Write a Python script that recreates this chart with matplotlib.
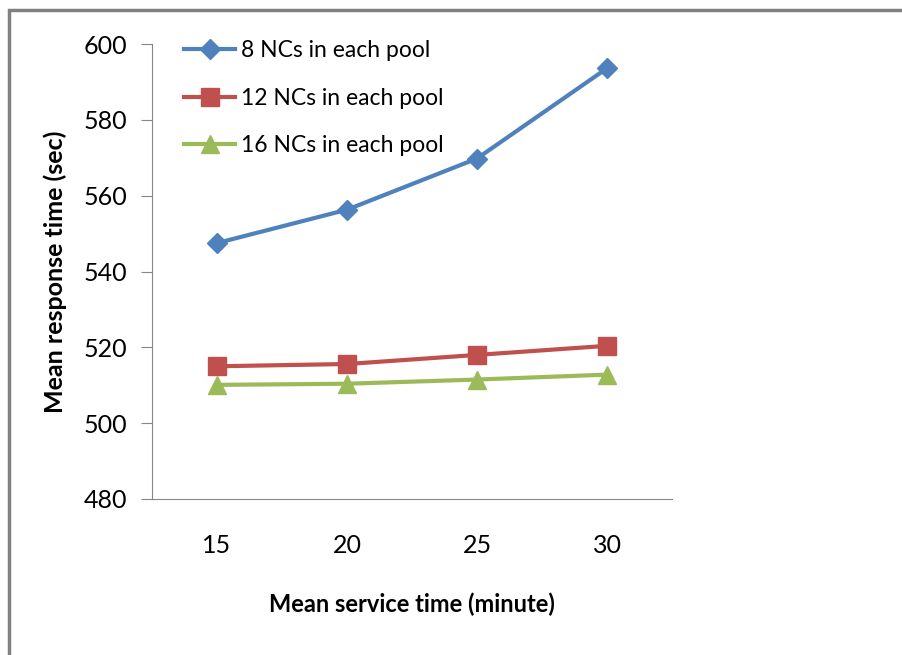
import matplotlib
matplotlib.use("Agg")
import matplotlib.pyplot as plt
from matplotlib.patches import Rectangle

categories = ["15", "20", "25", "30"]
nc8 = [547.5, 556.3, 569.8, 593.6]
nc12 = [515.0, 515.6, 518.0, 520.4]
nc16 = [510.1, 510.4, 511.5, 512.8]
labels = ["8 NCs in each pool", "12 NCs in each pool", "16 NCs in each pool"]
yticks = [480, 500, 520, 540, 560, 580, 600]

plt.rcParams['font.family'] = ['Lato', 'DejaVu Sans']

W, H = 902, 655
fig = plt.figure(figsize=(W/100, H/100), dpi=100)
ax = fig.add_axes([152/W, 1-499/H, (672-152)/W, (499-44)/H])

x = list(range(len(categories)))
ax.plot(x, nc8, color='#4F81BD', lw=3, marker='D', ms=10, label=labels[0])
ax.plot(x, nc12, color='#C0504D', lw=3, marker='s', ms=13, label=labels[1])
ax.plot(x, nc16, color='#9BBB59', lw=3, marker='^', ms=13, label=labels[2])

ax.set_xlim(-0.5, len(categories)-0.5)
ax.set_ylim(480, 600)
ax.set_yticks(yticks)
ax.set_xticks(x)
ax.set_xticklabels(categories)
for s in ['top', 'right']:
    ax.spines[s].set_visible(False)
for s in ['left', 'bottom']:
    ax.spines[s].set_color('#868686')
ax.tick_params(axis='y', direction='out', length=8, color='#868686', labelsize=18, pad=10)
ax.tick_params(axis='x', length=0, labelsize=18, pad=25)

ax.set_ylabel("Mean response time (sec)", fontsize=18, fontweight='bold', labelpad=12)
ax.set_xlabel("Mean service time (minute)", fontsize=17, fontweight='bold', labelpad=26)

leg = ax.legend(loc='upper left', bbox_to_anchor=(0.027, 1.048), frameon=False,
                fontsize=16.5, handlelength=2.2, handletextpad=0.25, labelspacing=1.15,
                borderpad=0.3)

fig.patches.append(Rectangle((9/W, -0.1), 1.2, 1 - 10/H + 0.1, transform=fig.transFigure,
                             fill=False, edgecolor='#808080', lw=2.5))

fig.savefig("out.png", dpi=100)
